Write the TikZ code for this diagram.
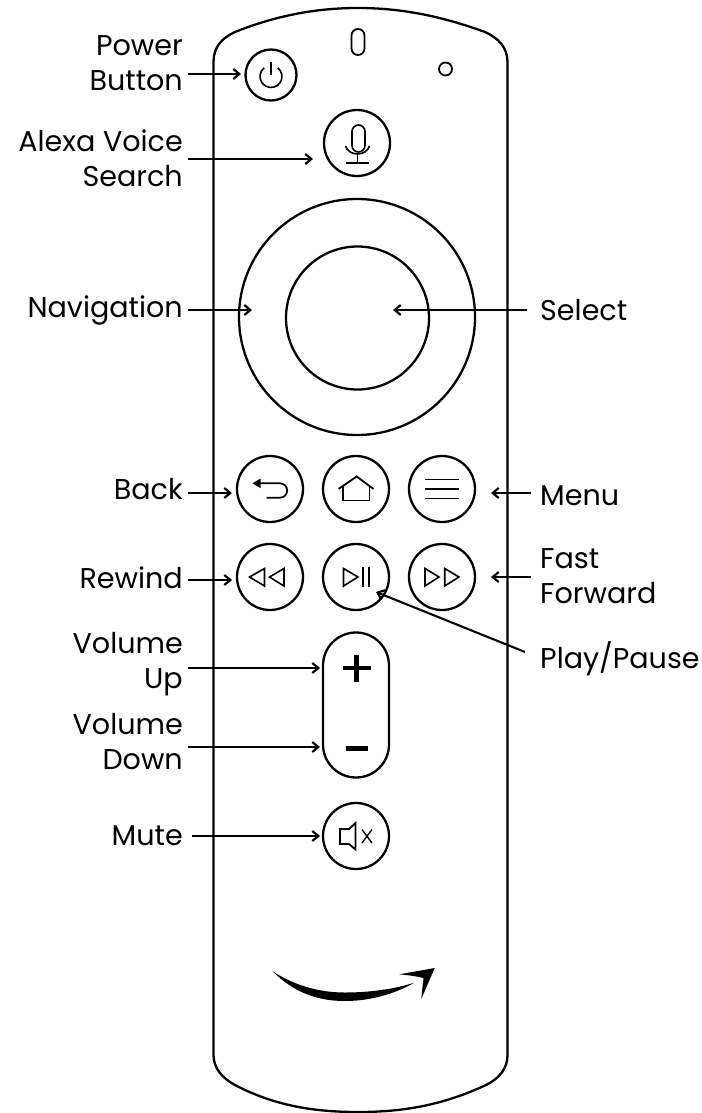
\documentclass[tikz,border=0pt]{standalone}
\usepackage{fontspec}
\setmainfont{Poppins}
\usetikzlibrary{arrows.meta}
\tikzset{
  outline/.style={draw=black,line width=2.3pt,fill=none},
  btn/.style={draw=black,line width=2.3pt,circle,minimum size=66pt,inner sep=0pt},
  icon/.style={draw=black,line width=1.6pt,line join=miter},
  lblR/.style={anchor=east,align=right,inner sep=0pt,font=\fontsize{28.6}{35}\selectfont},
  lblL/.style={anchor=west,align=left,inner sep=0pt,font=\fontsize{28.6}{35}\selectfont},
  conn/.style={draw=black,line width=2.1pt,-{Straight Barb[length=6pt,width=10pt,line width=2.2pt]}},
}
\begin{document}
\begin{tikzpicture}[x=1pt,y=-1pt]
\useasboundingbox (0,0) rectangle (701,1113);
\fill[white] (0,0) rectangle (701,1113);
% body
\draw[outline] (213.5,62) .. controls (213.5,47) and (222,38) .. (235,32)
  .. controls (275,16) and (315,8) .. (358,8)
  .. controls (401,8) and (441,16) .. (485,32)
  .. controls (498,38) and (507.5,47) .. (507.5,62)
  -- (507.5,1055)
  .. controls (507.5,1068) and (500,1078) .. (486,1085)
  .. controls (441,1106) and (401,1112) .. (358,1112)
  .. controls (315,1112) and (275,1106) .. (235,1085)
  .. controls (222,1078) and (213.5,1068) .. (213.5,1055) -- cycle;
% top details
\node[draw=black,line width=1.8pt,rounded corners=6.5pt,minimum width=13pt,minimum height=26pt,inner sep=0pt] (led) at (358,42) {};
\node[draw=black,line width=1.8pt,circle,minimum size=13pt,inner sep=0pt] (sensor) at (445.5,69) {};
% buttons
\node[btn,minimum size=51pt] (power) at (271,75) {};
\node[btn] (mic) at (357,143) {};
\node[btn,minimum size=236pt] (nav) at (357,317) {};
\node[btn,minimum size=143pt] (select) at (357.5,318) {};
\node[btn] (back) at (270,489) {};
\node[btn] (home) at (356,489) {};
\node[btn] (menu) at (442,489) {};
\node[btn] (rew) at (270,577) {};
\node[btn] (play) at (356,577) {};
\node[btn] (ff) at (442,577) {};
\draw[outline] (323,665.5) arc[start angle=180,end angle=360,radius=33] -- (389,744.5) arc[start angle=0,end angle=180,radius=33] -- cycle;
\node[btn] (mute) at (356,836) {};
% icons: power
\draw[icon] (264.2,67.8) arc[start angle=-128,delta angle=-284,radius=11];
\draw[icon] (271,62) -- (271,75);
% mic
\draw[icon] (352,131.5) arc[start angle=180,end angle=360,radius=6.5] -- (365,145.5) arc[start angle=0,end angle=180,radius=6.5] -- cycle;
\draw[icon] (345.5,146) .. controls (347,151) and (352,154) .. (357.5,154) .. controls (363,154) and (368,151) .. (369.5,146);
\draw[icon] (357.5,154) -- (357.5,163);
\draw[icon] (346,163) -- (369,163);
% back
\fill (252.5,483.3) -- (260.5,478.5) -- (260.5,488) -- cycle;
\draw[icon,line width=1.7pt] (260,483.3) -- (280,483.3) arc[start angle=-90,end angle=90,radius=7.2] -- (266.5,497.7);
% home
\draw[icon,line width=1.8pt] (338.5,489) -- (356.7,476.5) -- (373.5,489);
\draw[icon,line width=1.8pt] (343,486) -- (343,500.5) -- (369.5,500.5) -- (369.5,486);
% menu
\draw[icon] (425,479.5) -- (459,479.5) (425,489) -- (459,489) (425,498.5) -- (459,498.5);
% rewind
\draw[icon] (249.5,577) -- (264.5,568.5) -- (264.5,586) -- cycle;
\draw[icon] (269.5,577) -- (284,568.5) -- (284,586) -- cycle;
% play / pause
\draw[icon] (343.5,568.5) -- (358,577) -- (343.5,586) -- cycle;
\draw[icon] (362.7,567) -- (362.7,587) (369,567) -- (369,587);
% fast forward
\draw[icon] (425,568.5) -- (439,577) -- (425,586) -- cycle;
\draw[icon] (444.7,568.5) -- (459,577) -- (444.7,586) -- cycle;
% volume
\draw[draw=black,line width=4.6pt] (342.5,668) -- (370.5,668) (356.5,654.5) -- (356.5,682);
\draw[draw=black,line width=5pt] (345.5,748.5) -- (367.5,748.5);
% mute
\draw[icon,line width=1.8pt] (340,829) -- (349,829) -- (355.5,823) -- (355.5,849.5) -- (349,844) -- (340,844) -- cycle;
\draw[draw=black,line width=1.4pt] (362,829.5) -- (372,843) (372,829.5) -- (362,843);
% amazon smile
\fill (272.3,971) .. controls (295,994) and (320,1001) .. (345,1001)
  .. controls (370,1001) and (395,994) .. (414,982.7)
  .. controls (395,989) and (370,992.5) .. (345,992.5)
  .. controls (320,992.5) and (295,986) .. (272.3,971) -- cycle;
\fill (399.3,974.3) -- (434.7,968) -- (421.3,999) .. controls (422,990) and (423,984) .. (423.5,978) .. controls (415,976) and (407,975) .. (399.3,974.3) -- cycle;
% labels
\node[lblR] (lpower) at (183,63) {Power\\Button};
\node[lblR] (lalexa) at (183,158) {Alexa Voice\\Search};
\node[lblR] (lnav) at (183,310) {Navigation};
\node[lblL] (lselect) at (540,310) {Select};
\node[lblR] (lback) at (183,489) {Back};
\node[lblL] (lmenu) at (540,496) {Menu};
\node[lblR] (lrew) at (183,578) {Rewind};
\node[lblL] (lff) at (540,576) {Fast\\Forward};
\node[lblL] (lplay) at (540,659) {Play/Pause};
\node[lblR] (lup) at (183,664) {Volume\\Up};
\node[lblR] (ldown) at (183,742) {Volume\\Down};
\node[lblR] (lmute) at (183,836) {Mute};
% connector ends
\coordinate (tpower) at (241,74);
\coordinate (tmic) at (313,159);
\coordinate (tnav) at (252,310);
\coordinate (tsel) at (393,310);
\coordinate (tback) at (232,493);
\coordinate (tmenu) at (491,493);
\coordinate (trew) at (232,580);
\coordinate (tff) at (491,577);
\coordinate (tplay) at (376,592);
\coordinate (tup) at (320,668);
\coordinate (tdown) at (320,747);
\coordinate (tmute) at (320,836);
\coordinate (splay) at (525,652);
% connectors
\draw[conn] ([xshift=5pt]lpower.east |- tpower) -- (tpower);
\draw[conn] ([xshift=5pt]lalexa.east |- tmic) -- (tmic);
\draw[conn] ([xshift=5pt]lnav.east |- tnav) -- (tnav);
\draw[conn] ([xshift=-13pt]lselect.west |- tsel) -- (tsel);
\draw[conn] ([xshift=5pt]lback.east |- tback) -- (tback);
\draw[conn] ([xshift=-9pt]lmenu.west |- tmenu) -- (tmenu);
\draw[conn] ([xshift=5pt]lrew.east |- trew) -- (trew);
\draw[conn] ([xshift=-9pt]lff.west |- tff) -- (tff);
\draw[conn] (splay) -- (tplay);
\draw[conn] ([xshift=5pt]lup.east |- tup) -- (tup);
\draw[conn] ([xshift=5pt]ldown.east |- tdown) -- (tdown);
\draw[conn] ([xshift=9pt]lmute.east |- tmute) -- (tmute);
\end{tikzpicture}
\end{document}
